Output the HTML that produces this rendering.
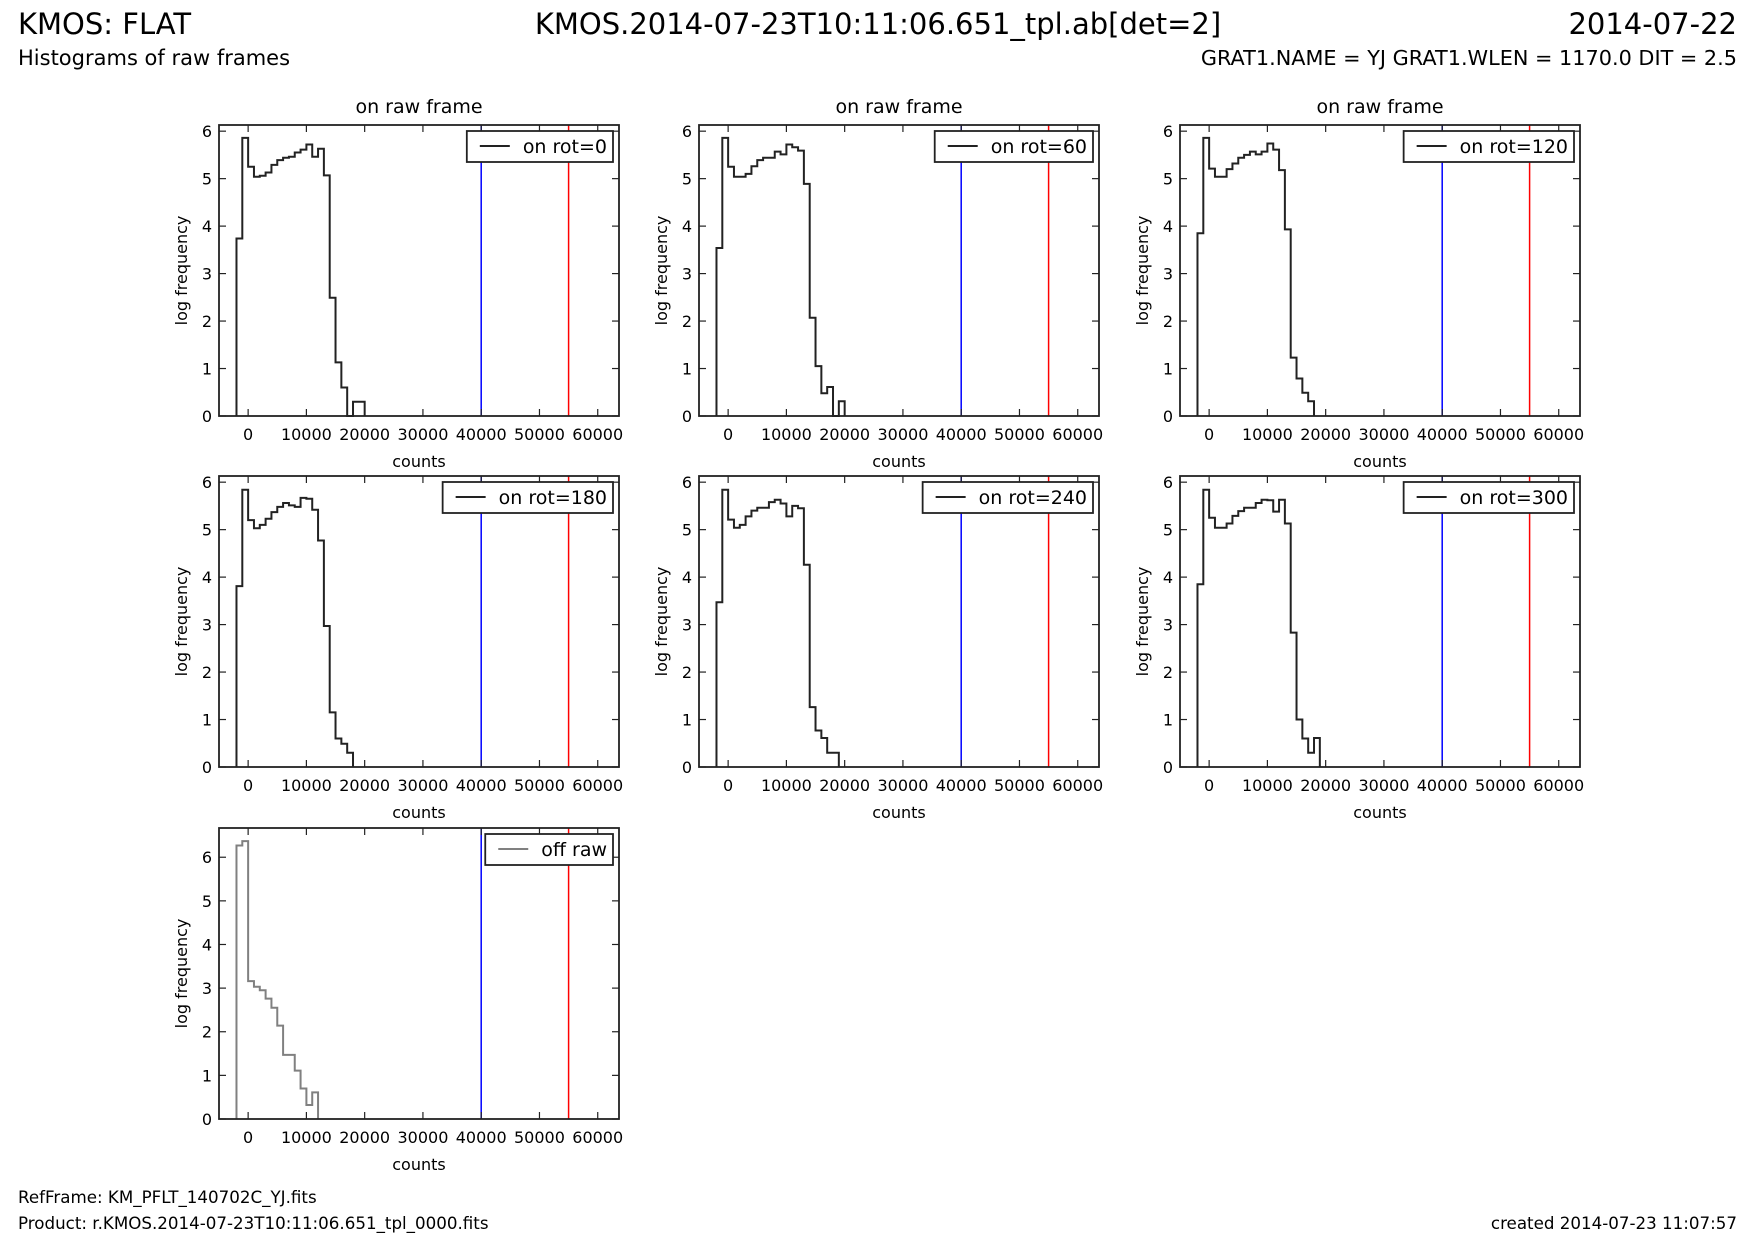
<!DOCTYPE html>
<html><head><meta charset="utf-8">
<style>
html,body{margin:0;padding:0;background:#fff;}
svg{display:block;font-family:"DejaVu Sans","Liberation Sans",sans-serif;}
</style></head>
<body>
<svg id="fig" width="1755" height="1245" viewBox="0 0 1755 1245" xmlns="http://www.w3.org/2000/svg">
<rect x="0" y="0" width="1755" height="1245" fill="#fff"/>
<text x="18" y="34" font-size="29">KMOS: FLAT</text>
<text x="878" y="34" font-size="29" text-anchor="middle">KMOS.2014-07-23T10:11:06.651_tpl.ab[det=2]</text>
<text x="1737" y="34" font-size="29" text-anchor="end">2014-07-22</text>
<text x="18" y="65" font-size="21">Histograms of raw frames</text>
<text x="1737" y="65" font-size="20.8" text-anchor="end">GRAT1.NAME = YJ GRAT1.WLEN = 1170.0 DIT = 2.5</text>
<text x="18" y="1203" font-size="16.7">RefFrame: KM_PFLT_140702C_YJ.fits</text>
<text x="18" y="1229" font-size="16.7">Product: r.KMOS.2014-07-23T10:11:06.651_tpl_0000.fits</text>
<text x="1737" y="1229" font-size="16.7" text-anchor="end">created 2014-07-23 11:07:57</text>
<g id="plots"></g>
</svg>
<script>
// Histogram bins: left edges (counts), width 1000
const binStart = -2000;
const binWidth = 1000;
const rot0   = [3.74,5.86,5.25,5.04,5.06,5.13,5.29,5.39,5.44,5.46,5.55,5.61,5.72,5.46,5.63,5.07,2.49,1.13,0.60,0,0.30,0.30];
const rot60  = [3.54,5.86,5.25,5.04,5.04,5.10,5.26,5.39,5.44,5.44,5.57,5.51,5.72,5.66,5.59,4.89,2.07,1.05,0.48,0.61,0,0.31];
const rot120 = [3.85,5.86,5.21,5.04,5.04,5.20,5.32,5.44,5.50,5.57,5.51,5.57,5.74,5.61,5.18,3.93,1.23,0.79,0.49,0.31];
const rot180 = [3.81,5.84,5.20,5.03,5.10,5.23,5.37,5.48,5.56,5.51,5.48,5.67,5.65,5.42,4.77,2.97,1.15,0.60,0.49,0.30];
const rot240 = [3.47,5.84,5.21,5.04,5.10,5.28,5.40,5.46,5.46,5.58,5.63,5.55,5.28,5.50,5.45,4.26,1.26,0.77,0.61,0.30,0.30];
const rot300 = [3.85,5.84,5.25,5.04,5.04,5.13,5.29,5.39,5.46,5.46,5.56,5.63,5.62,5.38,5.63,5.13,2.83,1.00,0.60,0.30,0.61];
const offRaw = [6.27,6.37,3.16,3.03,2.95,2.76,2.55,2.14,1.47,1.47,1.11,0.70,0.32,0.61];
const legendLabels = ["on rot=0","on rot=60","on rot=120","on rot=180","on rot=240","on rot=300","off raw"];
const xTicks = [0,10000,20000,30000,40000,50000,60000];
const yTicks = [0,1,2,3,4,5,6];
const blueLine = 40000;
const redLine = 55000;

const NS = "http://www.w3.org/2000/svg";
const root = document.getElementById('plots');
function el(tag, attrs, parent){const e=document.createElementNS(NS,tag);for(const k in attrs)e.setAttribute(k,attrs[k]);(parent||root).appendChild(e);return e;}

const series = [rot0,rot60,rot120,rot180,rot240,rot300,offRaw];
const lefts = [219,699,1180];
const tops = [125,476,828];
const W = 400, H = 291;
const xmin = -5000, xmax = 63650;

series.forEach((data, i) => {
  const col = i % 3, row = Math.floor(i/3);
  const L = lefts[col], T = tops[row], B = T + H, R = L + W;
  const ymax = i === 6 ? 6.67 : 6.13;
  const color = i === 6 ? '#808080' : '#222';
  const sx = v => L + (v - xmin) / (xmax - xmin) * W;
  const sy = v => B - v / ymax * H;
  const g = el('g', {});
  
  
  if (row === 0) {
    const t = el('text', {x:L+W/2, y:T-12, 'font-size':19, 'text-anchor':'middle'}, g);
    
    
    t.textContent = 'on raw frame';
  }
  const bl = el('line', {x1:sx(blueLine), x2:sx(blueLine), y1:T, y2:B, stroke:'#0000ff', 'stroke-width':1.5}, g);
  
  
  const rl = el('line', {x1:sx(redLine), x2:sx(redLine), y1:T, y2:B, stroke:'#ff0000', 'stroke-width':1.5}, g);
  
  
  let d = 'M' + sx(binStart) + ' ' + sy(0);
  data.forEach((v, k) => {
    const x0 = sx(binStart + k*binWidth), x1 = sx(binStart + (k+1)*binWidth);
    d += ' L' + x0 + ' ' + sy(v) + ' L' + x1 + ' ' + sy(v);
  });
  d += ' L' + sx(binStart + data.length*binWidth) + ' ' + sy(0);
  const p = el('path', {d:d, fill:'none', stroke:color, 'stroke-width':2, 'stroke-linejoin':'miter'}, g);
  
  
  const fr = el('rect', {x:L, y:T, width:W, height:H, fill:'none', stroke:'#222', 'stroke-width':1.8}, g);
  
  
  xTicks.forEach(v => {
    const x = sx(v);
    el('line', {x1:x, x2:x, y1:B, y2:B-7, stroke:'#222', 'stroke-width':1.2}, g);
    el('line', {x1:x, x2:x, y1:T, y2:T+7, stroke:'#222', 'stroke-width':1.2}, g);
    const t = el('text', {x:x, y:B+24, 'font-size':16, 'text-anchor':'middle'}, g);
    
    
    t.textContent = v;
  });
  yTicks.forEach(v => {
    const y = sy(v);
    el('line', {x1:L, x2:L+7, y1:y, y2:y, stroke:'#222', 'stroke-width':1.2}, g);
    el('line', {x1:R, x2:R-7, y1:y, y2:y, stroke:'#222', 'stroke-width':1.2}, g);
    const t = el('text', {x:L-7, y:y+6, 'font-size':16, 'text-anchor':'end'}, g);
    
    
    t.textContent = v;
  });
  const xl = el('text', {x:L+W/2, y:B+51, 'font-size':16, 'text-anchor':'middle'}, g);
  
  
  xl.textContent = 'counts';
  const yl = el('text', {x:0, y:0, 'font-size':16, 'text-anchor':'middle', transform:'translate('+(L-32)+','+(T+H/2)+') rotate(-90)'}, g);
  
  
  yl.textContent = 'log frequency';
  const lg = el('g', {}, g);
  
  
  const box = el('rect', {x:0, y:T+6, width:10, height:31, fill:'#fff', stroke:'#222', 'stroke-width':1.8}, lg);
  const lt = el('text', {x:0, y:T+28, 'font-size':19, 'text-anchor':'end'}, lg);
  
  
  lt.textContent = legendLabels[i];
  const rightEdge = R - 6;
  lt.setAttribute('x', rightEdge - 6);
  const tw = lt.getComputedTextLength ? lt.getComputedTextLength() : 90;
  const boxL = rightEdge - tw - 62;
  box.setAttribute('x', boxL);
  box.setAttribute('width', rightEdge - boxL);
  const ls = el('line', {x1:boxL+13, x2:boxL+43, y1:T+21, y2:T+21, stroke:color, 'stroke-width':2}, lg);
  
  
});
</script>
</body></html>
